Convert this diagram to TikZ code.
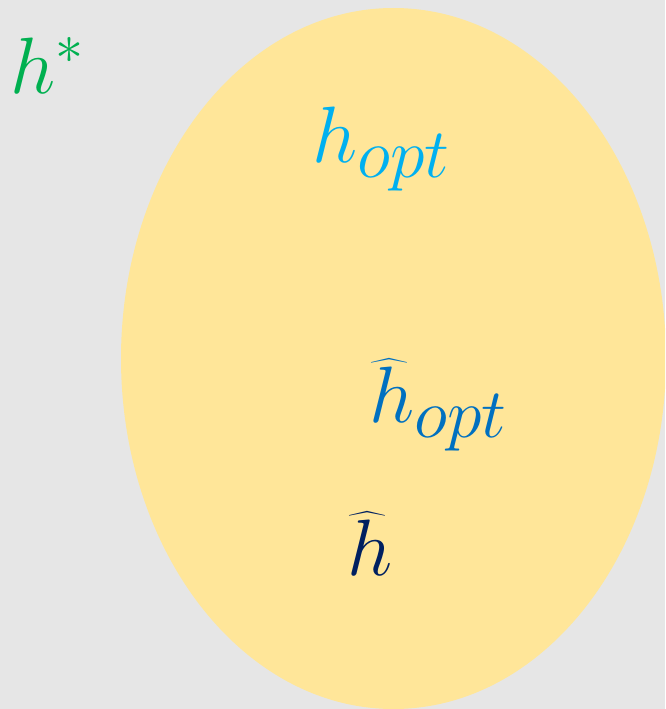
\RequirePackage{fix-cm}
\documentclass[tikz,border=0pt]{standalone}
\usepackage{amsmath}
\definecolor{bggray}{HTML}{E6E6E6}
\definecolor{ellfill}{HTML}{FFE699}
\definecolor{cgreen}{HTML}{00B050}
\definecolor{ccyan}{HTML}{00B0F0}
\definecolor{cblue}{HTML}{0070C0}
\definecolor{cnavy}{HTML}{002060}
\newcommand{\bigsub}[1]{\mbox{\fontsize{70}{72}\selectfont$#1$}}
\begin{document}
\begin{tikzpicture}[x=1pt,y=-1pt,
  lab/.style={anchor=base west,inner sep=0pt,font=\fontsize{80}{84}\selectfont}]
\useasboundingbox (0,0) rectangle (665,709);
\fill[bggray] (0,0) rectangle (665,709);
\begin{scope}
\clip (0,0) rectangle (665,709);
\fill[ellfill] (393.5,358.5) ellipse [x radius=272.5, y radius=350.5];
\end{scope}
\node[lab,text=cgreen] (hstar) at (10,93) {$h^{*}$};
\node[lab,text=ccyan] (hopt) at (312,162) {$h_{\bigsub{opt}}$};
\node[lab,text=cblue] (hhatopt) at (369,422) {$\widehat{h}_{\bigsub{opt}}$};
\node[lab,text=cnavy] (hhat) at (347,575) {$\widehat{h}$};
\end{tikzpicture}
\end{document}
